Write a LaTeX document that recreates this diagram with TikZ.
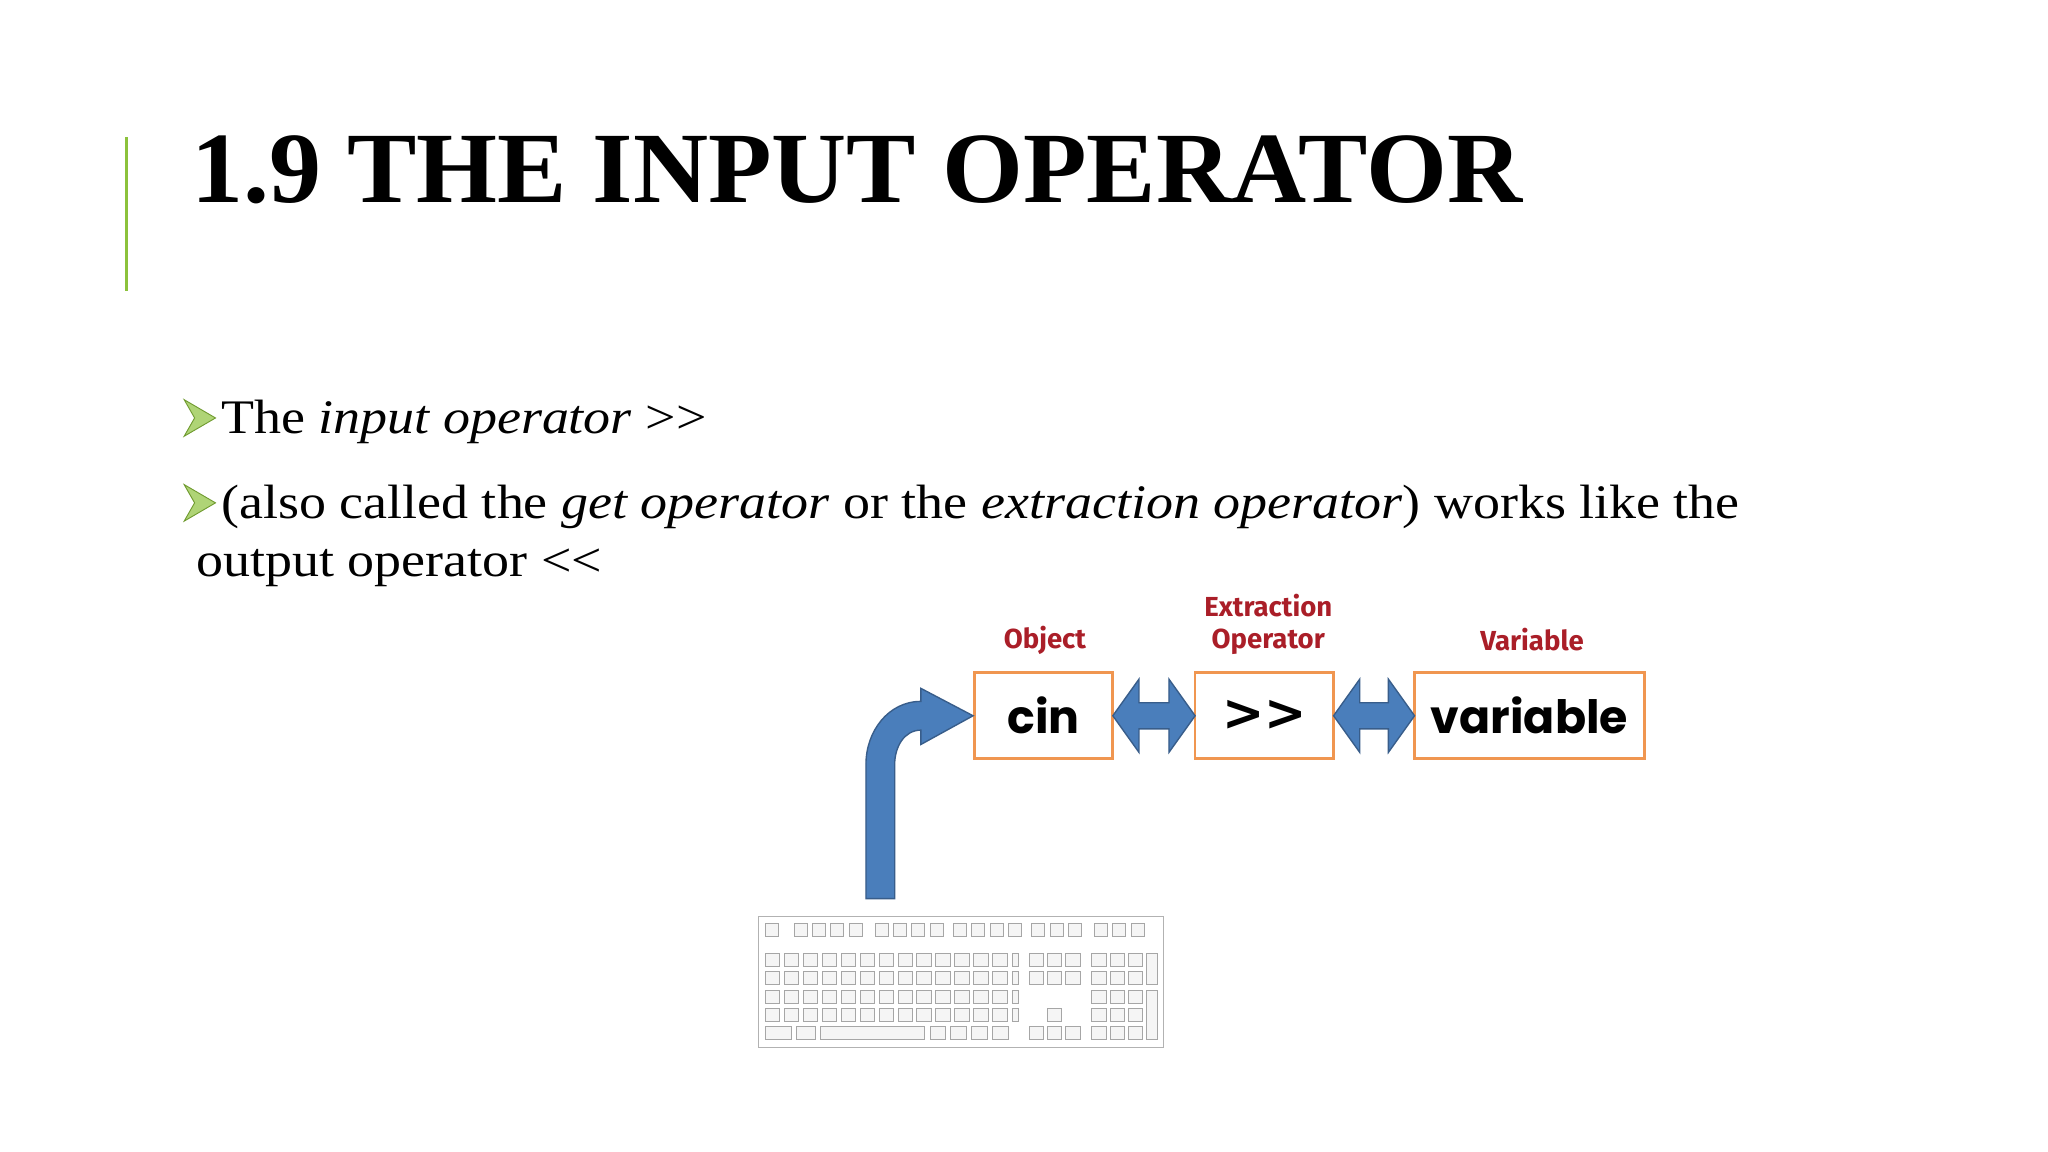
\documentclass[tikz,border=0pt]{standalone}
\usepackage{fontspec}
\setmainfont{Liberation Serif}
\newfontfamily\bodyfont{Liberation Serif}[FakeStretch=1.12]
\newfontfamily\titlefont{Liberation Serif}[FakeStretch=1.03]
\newfontfamily\boxfont{Poppins}
\newfontfamily\gtfont{DejaVu Sans}
\newfontfamily\lblfont{Fira Sans}
\definecolor{accent}{RGB}{140,194,60}
\definecolor{boxor}{RGB}{240,150,80}
\definecolor{arrblue}{RGB}{74,126,187}
\definecolor{arredge}{RGB}{56,93,138}
\definecolor{lblred}{RGB}{170,30,40}
\tikzset{
  opbox/.style={draw=boxor,line width=1.2pt,minimum height=66*0.02cm,inner sep=0pt,font=\boxfont\bfseries\fontsize{20}{20}\selectfont},
  lbl/.style={text=lblred,font=\lblfont\bfseries\fontsize{12}{14}\selectfont,align=center},
  arrfill/.style={fill=arrblue,draw=arredge,line width=0.6pt},
  key/.style={draw=gray!70,fill=gray!8,line width=0.4pt},
  bul/.style={fill=accent!70,draw=accent!80!black,line width=0.4pt},
  body/.style={anchor=base west,inner sep=0,font=\bodyfont\fontsize{21}{24}\selectfont}
}
\begin{document}
\begin{tikzpicture}[x=0.02cm,y=-0.02cm]
\useasboundingbox (0,0) rectangle (1568,882);
\fill[white] (0,0) rectangle (1568,882);
\draw[accent,line width=1.5pt] (97,105) -- (97,223);
\node[anchor=base west,inner sep=0,font=\titlefont\bfseries\fontsize{44}{44}\selectfont] (title) at (146,155) {1.9 THE INPUT OPERATOR};
\foreach \y in {320,385}{\fill[bul] (141,\y-14) -- (165,\y) -- (141,\y+14) -- (149,\y) -- cycle;}
\node[body] (b1) at (169,332) {The \emph{input operator} >{}>};
\node[body] (b2) at (169,397) {(also called the \emph{get operator} or the \emph{extraction operator}) works like the};
\node[body] (b3) at (150,441) {output operator <{}<};
% boxes
\node[opbox,minimum width=106*0.02cm] (cin) at (799,548) {cin};
\node[opbox,minimum width=106*0.02cm,font=\gtfont\bfseries\fontsize{22}{22}\selectfont] (ext) at (968,548) {>{}>};
\node[opbox,minimum width=176*0.02cm] (var) at (1171,548) {variable};
% double arrows
\foreach \a/\b in {852/915,1021/1083}{
  \fill[arrfill] (\a,548) -- (\a+20,520) -- (\a+20,538) -- (\b-20,538) -- (\b-20,520) -- (\b,548) -- (\b-20,576) -- (\b-20,558) -- (\a+20,558) -- (\a+20,576) -- cycle;}
\node[lbl] (l1) at (800,490) {Object};
\node[lbl] (l2) at (971,478) {Extraction\\Operator};
\node[lbl] (l3) at (1173,490) {Variable};
% bent arrow
\coordinate (head) at (745,548);
\fill[arrfill] (663,688) -- (663,585) to[out=90,in=180] (705,537) -- (705,527) -- (head) -- (705,570) -- (705,559) to[out=180,in=90] (685,585) -- (685,688) -- cycle;
% keyboard
\node[draw=gray!60,fill=white,minimum width=310*0.02cm,minimum height=100*0.02cm,inner sep=0] (kb) at (736,752) {};
\foreach \x in {586,608,622,636,650,670,684,698,712,730,744,758,772,790,804,818,838,852,866}{\draw[key] (\x,707) rectangle ++(10,10);}
\foreach \r/\y in {0/730,1/744,2/758,3/772}{
  \foreach \i in {0,...,12}{\draw[key] (586+\i*14.5,\y) rectangle ++(11,10);}
  \draw[key] (775,\y) rectangle ++(5,10);
}
\draw[key] (586,786) rectangle ++(20,10);\draw[key] (610,786) rectangle ++(14,10);\draw[key] (628,786) rectangle ++(80,10);
\foreach \x in {712,728,744,760}{\draw[key] (\x,786) rectangle ++(12,10);}
\foreach \x in {788,802,816}{\draw[key] (\x,730) rectangle ++(11,10);\draw[key] (\x,744) rectangle ++(11,10);\draw[key] (\x,786) rectangle ++(11,10);}
\draw[key] (802,772) rectangle ++(11,10);
\foreach \y in {730,744,758,772,786}{\foreach \x in {836,850,864}{\draw[key] (\x,\y) rectangle ++(11,10);}}
\draw[key] (878,730) rectangle ++(8,24);\draw[key] (878,758) rectangle ++(8,38);
\end{tikzpicture}
\end{document}
